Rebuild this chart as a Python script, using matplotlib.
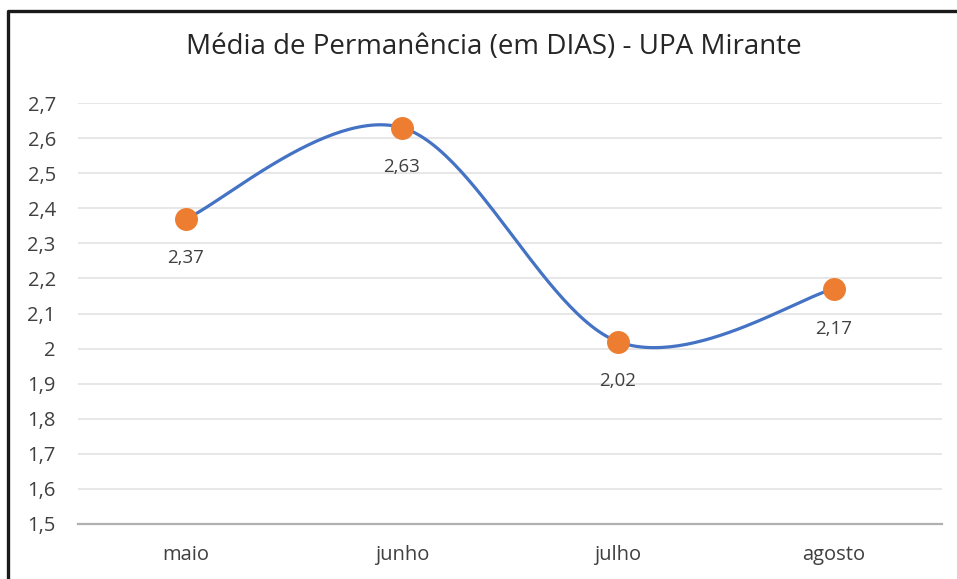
import matplotlib.pyplot as plt
import numpy as np
from matplotlib.lines import Line2D

plt.rcParams['font.family'] = ['Open Sans', 'DejaVu Sans']

meses = ['maio', 'junho', 'julho', 'agosto']
media = [2.37, 2.63, 2.02, 2.17]
yticks = [1.5, 1.6, 1.7, 1.8, 1.9, 2.0, 2.1, 2.2, 2.3, 2.4, 2.5, 2.6, 2.7]


def fmt(v):
    s = ('%.2f' % v).rstrip('0').rstrip('.')
    return s.replace('.', ',')


# smooth line like excel (catmull-rom / bezier)
def smooth(xs, ys, n=60):
    xs = np.asarray(xs, float)
    ys = np.asarray(ys, float)
    px = np.concatenate([[xs[0]], xs, [xs[-1]]])
    py = np.concatenate([[ys[0]], ys, [ys[-1]]])
    outx, outy = [], []
    t = np.linspace(0, 1, n)
    for i in range(1, len(xs)):
        p0 = np.array([px[i], py[i]])
        p3 = np.array([px[i + 1], py[i + 1]])
        c1 = p0 + (np.array([px[i + 1], py[i + 1]]) - np.array([px[i - 1], py[i - 1]])) / 6
        c2 = p3 - (np.array([px[i + 2], py[i + 2]]) - np.array([px[i], py[i]])) / 6
        b = ((1 - t) ** 3)[:, None] * p0 + (3 * (1 - t) ** 2 * t)[:, None] * c1 \
            + (3 * (1 - t) * t ** 2)[:, None] * c2 + (t ** 3)[:, None] * p3
        outx.extend(b[:, 0])
        outy.extend(b[:, 1])
    return outx, outy


fig = plt.figure(figsize=(9.57, 5.79), dpi=100)
ax = fig.add_axes([0.0815, 0.095, 0.9025, 0.727])

x = np.arange(len(meses))
sx, sy = smooth(x, media)
ax.plot(sx, sy, color='#4472C4', lw=2.3, zorder=3)
ax.plot(x, media, 'o', color='#ED7D31', markersize=15.5, zorder=4)

for xi, v in zip(x, media):
    ax.annotate(fmt(v), (xi, v), xytext=(0, -28.5), textcoords='offset points',
                ha='center', va='center', fontsize=13.5, color='#404040')

ax.set_xlim(-0.5, 3.5)
ax.set_ylim(1.5, 2.7)
ax.set_yticks(yticks)
ax.set_yticklabels([fmt(v) for v in yticks])
ax.set_xticks(x)
ax.set_xticklabels(meses)
ax.tick_params(axis='both', length=0, labelsize=14.5, labelcolor='#404040')
ax.tick_params(axis='y', pad=16)
ax.tick_params(axis='x', pad=15)
ax.grid(axis='y', color='#E3E3E3', lw=1.2)
ax.set_axisbelow(True)
for s in ['top', 'right', 'left']:
    ax.spines[s].set_visible(False)
ax.spines['bottom'].set_color('#B0B0B0')
ax.spines['bottom'].set_linewidth(1.6)

fig.text(0.516, 0.918, 'Média de Permanência (em DIAS) - UPA Mirante',
         ha='center', va='center', fontsize=20, color='#262626')

# chart border (only top and left visible in the crop)
fig.add_artist(Line2D([8 / 957, 8 / 957, 1.0], [0.0, 1 - 11 / 579, 1 - 11 / 579],
                      transform=fig.transFigure, color='#1a1a1a', lw=2.4))

fig.savefig('out.png', dpi=100)
